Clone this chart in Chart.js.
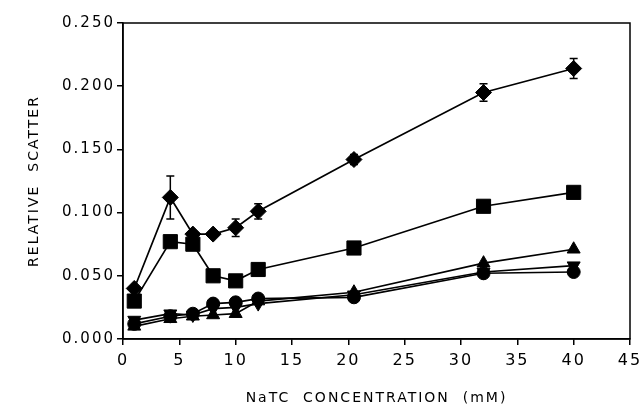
<!DOCTYPE html>
<html>
<head>
<meta charset="utf-8">
<script src="https://cdn.jsdelivr.net/npm/chart.js@4/dist/chart.umd.min.js"></script>
<style>
  html, body { margin: 0; padding: 0; background: #fff; }
  #wrap { width: 641px; height: 409px; }
</style>
</head>
<body>
<div id="wrap"><canvas id="scatterChart"></canvas></div>
<script>
// concentrations NaTC (mM)
const conc = [1, 4.2, 6.2, 8, 10, 12, 20.5, 32, 40];

// séries
const diamondVals = [0.040, 0.112, 0.083, 0.083, 0.088, 0.101, 0.142, 0.195, 0.214];
const diamondErr = [0.002, 0.017, 0.003, 0.002, 0.007, 0.006, 0.004, 0.007, 0.008];
const squareVals = [0.030, 0.077, 0.075, 0.050, 0.046, 0.055, 0.072, 0.105, 0.116];
const triUpVals = [0.010, 0.016, 0.018, 0.019, 0.020, 0.030, 0.037, 0.060, 0.071];
const triDownVals = [0.015, 0.020, 0.019, 0.024, 0.025, 0.028, 0.035, 0.053, 0.058];
const circleVals = [0.012, 0.018, 0.020, 0.028, 0.029, 0.032, 0.033, 0.052, 0.053];

const xTicks = [0, 5, 10, 15, 20, 25, 30, 35, 40, 45];
const yTicks = [0, 0.05, 0.1, 0.15, 0.2, 0.25];

function toPoints(vals) {
  return conc.map((x, i) => ({ x: x, y: vals[i] }));
}

function series(label, vals, style, radius, rotation) {
  return {
    label: label,
    data: toPoints(vals),
    showLine: true,
    borderColor: '#000',
    backgroundColor: '#000',
    borderWidth: 1.7,
    pointStyle: style,
    pointRadius: radius,
    pointRotation: rotation || 0,
    pointBorderWidth: 1,
    pointBackgroundColor: '#000',
    pointBorderColor: '#000'
  };
}

// espacement des lettres, comme sur la figure
const spacing = {
  id: 'spacing',
  beforeUpdate(chart) { chart.ctx.letterSpacing = '2px'; },
  beforeDraw(chart) { chart.ctx.letterSpacing = '2px'; }
};

// barres d'erreur
const errorBars = {
  id: 'errorBars',
  afterDatasetsDraw(chart) {
    const { ctx, scales: { x, y } } = chart;
    ctx.save();
    ctx.strokeStyle = '#000';
    ctx.lineWidth = 1.5;
    conc.forEach((c, i) => {
      const e = diamondErr[i];
      if (e < 0.004) return;
      const px = x.getPixelForValue(c);
      const top = y.getPixelForValue(diamondVals[i] + e);
      const bot = y.getPixelForValue(diamondVals[i] - e);
      ctx.beginPath();
      ctx.moveTo(px, top); ctx.lineTo(px, bot);
      ctx.moveTo(px - 4, top); ctx.lineTo(px + 4, top);
      ctx.moveTo(px - 4, bot); ctx.lineTo(px + 4, bot);
      ctx.stroke();
    });
    ctx.restore();
  }
};

// cadre haut/droite
const frame = {
  id: 'frame',
  afterDraw(chart) {
    const { ctx, chartArea: a } = chart;
    ctx.save();
    ctx.strokeStyle = '#000';
    ctx.lineWidth = 1.5;
    ctx.strokeRect(a.left, a.top, a.right - a.left, a.bottom - a.top);
    ctx.restore();
  }
};

const yTickFont = { family: 'DejaVu Sans', size: 15 };
const xTickFont = { family: 'DejaVu Sans', size: 16 };
const titleFont = { family: 'DejaVu Sans', size: 14 };

new Chart(document.getElementById('scatterChart'), {
  type: 'scatter',
  data: {
    datasets: [
      series('diamond', diamondVals, 'rectRot', 8),
      series('square', squareVals, 'rect', 10),
      series('triUp', triUpVals, 'triangle', 7.5),
      series('triDown', triDownVals, 'triangle', 7.5, 180),
      series('circle', circleVals, 'circle', 6.5)
    ]
  },
  options: {
    responsive: true,
    maintainAspectRatio: false,
    animation: false,
    layout: { padding: { left: 0, right: 11, top: 23, bottom: 0 } },
    plugins: {
      legend: { display: false },
      tooltip: { enabled: false }
    },
    scales: {
      x: {
        type: 'linear',
        min: 0,
        max: 45,
        afterBuildTicks: (s) => { s.ticks = xTicks.map(v => ({ value: v })); },
        afterFit: (s) => { s.height = 70; s.paddingLeft = 0; s.paddingRight = 0; },
        grid: { display: true, drawOnChartArea: false, drawTicks: true, tickLength: 6, color: '#000', lineWidth: 1.5 },
        border: { display: true, color: '#000', width: 1.5 },
        ticks: { color: '#000', font: xTickFont, padding: 6, maxRotation: 0 },
        title: { display: true, text: 'NaTC  CONCENTRATION  (mM)', color: '#000', font: titleFont, padding: { top: 4, bottom: 2 } }
      },
      y: {
        type: 'linear',
        min: 0,
        max: 0.25,
        afterBuildTicks: (s) => { s.ticks = yTicks.map(v => ({ value: v })); },
        afterFit: (s) => { s.width = 123; },
        grid: { display: true, drawOnChartArea: false, drawTicks: true, tickLength: 6, color: '#000', lineWidth: 1.5 },
        border: { display: true, color: '#000', width: 1.5 },
        ticks: { color: '#000', font: yTickFont, padding: 2, callback: (v) => v.toFixed(3) },
        title: { display: true, text: 'RELATIVE  SCATTER', color: '#000', font: titleFont, padding: { top: 26, bottom: 10 } }
      }
    }
  },
  plugins: [spacing, errorBars, frame]
});
</script>
</body>
</html>
